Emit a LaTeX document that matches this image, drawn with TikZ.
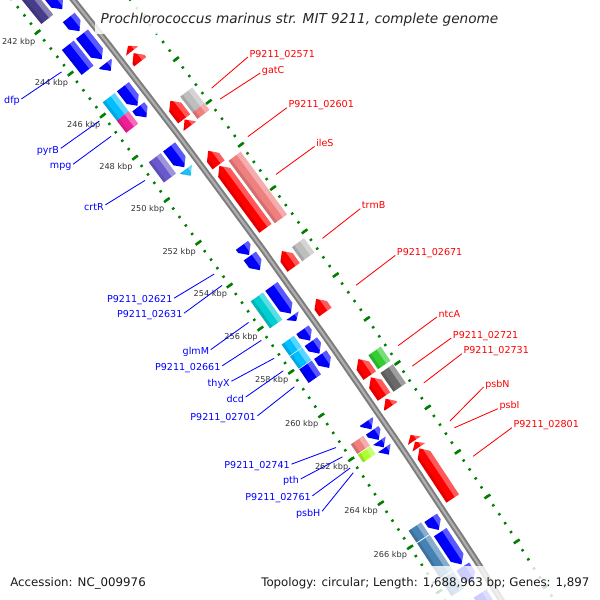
\documentclass[tikz,border=0pt]{standalone}
\usepackage{fontspec}
\setmainfont{DejaVu Sans}

\definecolor{cdsblue}{RGB}{0,0,255}
\definecolor{cdsred}{RGB}{255,0,0}
\definecolor{tickgreen}{RGB}{0,128,0}
\definecolor{cogslate}{RGB}{72,61,139}
\definecolor{cogsky}{RGB}{0,191,255}
\definecolor{cogpink}{RGB}{240,30,150}
\definecolor{coglav}{RGB}{106,90,205}
\definecolor{cogteal}{RGB}{0,206,209}
\definecolor{cogcoral}{RGB}{240,128,128}
\definecolor{coglime}{RGB}{173,255,47}
\definecolor{cogsteel}{RGB}{70,130,180}
\definecolor{coggrey}{RGB}{190,190,190}
\definecolor{cogdark}{RGB}{105,105,105}
\definecolor{coggreen}{RGB}{50,205,50}
\definecolor{misccyan}{RGB}{30,190,240}
\definecolor{backdark}{RGB}{125,125,125}
\definecolor{backlight}{RGB}{175,175,175}

% position (kbp) -> angle on the map
\newcommand{\kb}[1]{0.213149*(#1)-90}
\newcommand{\fwdpath}[3]{({\kb{#1}}:#3) -- ({\kb{#1}}:{#3+15}) -- ({\kb{max(#1,#2-0.3)}}:{#3+15}) -- ({\kb{#2}}:{#3+7.5}) -- ({\kb{max(#1,#2-0.3)}}:#3) -- cycle}
\newcommand{\revpath}[3]{({\kb{#1}}:{#3+7.5}) -- ({\kb{min(#2,#1+0.3)}}:{#3+15}) -- ({\kb{#2}}:{#3+15}) -- ({\kb{#2}}:#3) -- ({\kb{min(#2,#1+0.3)}}:#3) -- cycle}
\newcommand{\blkpath}[3]{({\kb{#1}}:#3) -- ({\kb{#1}}:{#3+15}) -- ({\kb{#2}}:{#3+15}) -- ({\kb{#2}}:#3) -- cycle}
\newcommand{\gene}[5]{%
  \begin{scope}
    \fill[#5] #1{#2}{#3}{#4};
    \clip #1{#2}{#3}{#4};
    \fill[white,fill opacity=.35] ({\kb{#2-0.5}}:{#4+10}) -- ({\kb{#3+0.5}}:{#4+10}) -- ({\kb{#3+0.5}}:{#4+16}) -- ({\kb{#2-0.5}}:{#4+16}) -- cycle;
    \fill[black,fill opacity=.12] ({\kb{#2-0.5}}:{#4-1}) -- ({\kb{#3+0.5}}:{#4-1}) -- ({\kb{#3+0.5}}:{#4+3}) -- ({\kb{#2-0.5}}:{#4+3}) -- cycle;
  \end{scope}}

\begin{document}
\begin{tikzpicture}[x=0.025cm,y=-0.025cm,
    minortick/.style={draw=tickgreen,line width=1.6pt},
    majortick/.style={draw=tickgreen,line width=1.8pt},
    kbplbl/.style={text=black!80,font=\fontsize{5.8}{7}\selectfont,inner sep=0pt},
    blbl/.style={text=cdsblue,font=\fontsize{6.8}{8}\selectfont,inner sep=1pt,anchor=base east},
    rlbl/.style={text=cdsred,font=\fontsize{6.8}{8}\selectfont,inner sep=1pt,anchor=base west},
    bline/.style={draw=cdsblue,line width=0.6pt},
    rline/.style={draw=cdsred,line width=0.6pt},
    legend/.style={text=black!90,font=\fontsize{8.4}{10}\selectfont,inner sep=0pt,anchor=base west}]
        \def\rBtwo{7131}
        \def\rBone{7149}
        \def\rRone{7178}
        \def\rRtwo{7196}

\useasboundingbox (0,0) rectangle (600,600);
\clip (0,0) rectangle (600,600);
\fill[white] (0,0) rectangle (600,600);

\begin{scope}[shift={(-5543,4458)}]
% tick rings
\foreach \k in {590,...,680}{
  \draw[minortick] ({\kb{\k*0.4}}:7121.8) -- ({\kb{\k*0.4}}:7124.4);
  \draw[minortick] ({\kb{\k*0.4}}:7214.4) -- ({\kb{\k*0.4}}:7217);
}
\foreach \m in {236,238,...,272}{
  \draw[majortick] ({\kb{\m}}:7119.5) -- ({\kb{\m}}:7126.5);
  \draw[majortick] ({\kb{\m}}:7212) -- ({\kb{\m}}:7219);
}
\foreach \m in {242,244,...,266}
  \node[kbplbl] (t\m) at ({\kb{\m-0.15}}:7102) {\m\ kbp};

% backbone
\draw[backdark,line width=4.4pt] plot[domain=236:272,samples=90] ({\kb{\x}}:7171);
\draw[backlight,line width=1.5pt] plot[domain=236:272,samples=90] ({\kb{\x}}:7171);

% forward CDS
\gene\fwdpath{236.0}{241.9}{\rBone}{cdsblue}
\gene\fwdpath{242.3}{242.95}{\rBone}{cdsblue}
\gene\fwdpath{243.1}{244.3}{\rBone}{cdsblue}
\gene\fwdpath{244.5}{244.85}{\rBone}{cdsblue}
\gene\fwdpath{245.6}{246.5}{\rBone}{cdsblue}
\gene\fwdpath{246.55}{247.05}{\rBone}{cdsblue}
\gene\fwdpath{248.45}{249.4}{\rBone}{cdsblue}
\gene\fwdpath{249.5}{249.8}{\rBone}{misccyan}
\gene\fwdpath{253.05}{253.5}{\rBone}{cdsblue}
\gene\fwdpath{253.55}{254.2}{\rBone}{cdsblue}
\gene\fwdpath{254.95}{256.2}{\rBone}{cdsblue}
\gene\fwdpath{256.3}{256.55}{\rBone}{cdsblue}
\gene\fwdpath{256.95}{257.45}{\rBone}{cdsblue}
\gene\fwdpath{257.5}{258.05}{\rBone}{cdsblue}
\gene\fwdpath{258.1}{258.7}{\rBone}{cdsblue}
\gene\fwdpath{261.15}{261.5}{\rBone}{cdsblue}
\gene\fwdpath{261.55}{261.98}{\rBone}{cdsblue}
\gene\fwdpath{262.02}{262.32}{\rBone}{cdsblue}
\gene\fwdpath{262.35}{262.65}{\rBone}{cdsblue}
\gene\fwdpath{265.5}{266.05}{\rBone}{cdsblue}
\gene\fwdpath{266.15}{267.6}{\rBone}{cdsblue}
\gene\fwdpath{267.7}{268.4}{\rBone}{cdsblue}
\gene\fwdpath{268.9}{271.0}{\rBone}{cdsblue}

% forward COG
\gene\blkpath{236.0}{241.85}{\rBtwo}{cogslate}
\gene\blkpath{243.1}{244.3}{\rBtwo}{cdsblue}
\gene\blkpath{245.6}{246.47}{\rBtwo}{cogsky}
\gene\blkpath{246.47}{247.05}{\rBtwo}{cogpink}
\gene\blkpath{248.45}{249.4}{\rBtwo}{coglav}
\gene\blkpath{254.95}{256.2}{\rBtwo}{cogteal}
\gene\blkpath{256.95}{257.47}{\rBtwo}{cogsky}
\gene\blkpath{257.5}{258.07}{\rBtwo}{cogsky}
\gene\blkpath{258.1}{258.72}{\rBtwo}{cdsblue}
\gene\blkpath{261.53}{261.97}{\rBtwo}{cogcoral}
\gene\blkpath{262.0}{262.35}{\rBtwo}{coglime}
\gene\blkpath{265.45}{265.98}{\rBtwo}{cogsteel}
\gene\blkpath{266.02}{267.6}{\rBtwo}{cogsteel}
\gene\blkpath{267.65}{268.4}{\rBtwo}{cogsteel}
\gene\blkpath{268.9}{271.0}{\rBtwo}{cogsteel}

% reverse CDS
\gene\revpath{244.5}{244.75}{\rRone}{cdsred}
\gene\revpath{244.85}{245.25}{\rRone}{cdsred}
\gene\revpath{247.1}{247.95}{\rRone}{cdsred}
\gene\revpath{247.98}{248.3}{\rRone}{cdsred}
\gene\revpath{249.45}{250.1}{\rRone}{cdsred}
\gene\revpath{250.15}{253.05}{\rRone}{cdsred}
\gene\revpath{254.1}{254.85}{\rRone}{cdsred}
\gene\revpath{256.3}{256.9}{\rRone}{cdsred}
\gene\revpath{259.05}{259.8}{\rRone}{cdsred}
\gene\revpath{259.88}{260.75}{\rRone}{cdsred}
\gene\revpath{260.85}{261.2}{\rRone}{cdsred}
\gene\revpath{262.5}{262.75}{\rRone}{cdsred}
\gene\revpath{262.8}{263.05}{\rRone}{cdsred}
\gene\revpath{263.1}{265.35}{\rRone}{cdsred}

% reverse COG
\gene\blkpath{247.2}{247.95}{\rRtwo}{coggrey}
\gene\blkpath{247.95}{248.25}{\rRtwo}{cogcoral}
\gene\blkpath{250.2}{253.1}{\rRtwo}{cogcoral}
\gene\blkpath{254.2}{254.85}{\rRtwo}{coggrey}
\gene\blkpath{259.15}{259.78}{\rRtwo}{coggreen}
\gene\blkpath{259.95}{260.8}{\rRtwo}{cogdark}

% label anchors on the genes
\coordinate (gdfp) at ({\kb{243.74}}:7117);
\coordinate (gpyrB) at ({\kb{246.08}}:7117);
\coordinate (gmpg) at ({\kb{246.81}}:7117);
\coordinate (gcrtR) at ({\kb{248.91}}:7117);
\coordinate (g02621) at ({\kb{253.31}}:7117);
\coordinate (g02631) at ({\kb{253.83}}:7117);
\coordinate (gglmM) at ({\kb{255.55}}:7117);
\coordinate (g02661) at ({\kb{256.38}}:7117);
\coordinate (gthyX) at ({\kb{257.21}}:7117);
\coordinate (gdcd) at ({\kb{257.80}}:7117);
\coordinate (g02701) at ({\kb{258.53}}:7117);
\coordinate (g02741) at ({\kb{261.31}}:7117);
\coordinate (gpth) at ({\kb{261.74}}:7117);
\coordinate (g02761) at ({\kb{262.25}}:7117);
\coordinate (gpsbH) at ({\kb{262.47}}:7117);

\coordinate (g02571) at ({\kb{247.66}}:7226);
\coordinate (ggatC) at ({\kb{248.17}}:7226);
\coordinate (g02601) at ({\kb{249.91}}:7226);
\coordinate (gileS) at ({\kb{251.66}}:7226);
\coordinate (gtrmB) at ({\kb{254.60}}:7226);
\coordinate (g02671) at ({\kb{256.75}}:7226);
\coordinate (gntcA) at ({\kb{259.49}}:7226);
\coordinate (g02721) at ({\kb{260.41}}:7226);
\coordinate (g02731) at ({\kb{261.17}}:7226);
\coordinate (gpsbN) at ({\kb{262.89}}:7226);
\coordinate (gpsbI) at ({\kb{263.19}}:7226);
\coordinate (g02801) at ({\kb{264.46}}:7226);
\end{scope}

% blue labels
\node[blbl] (ldfp) at (21.4,103.7) {dfp};
\node[blbl] (lpyrB) at (60.7,153) {pyrB};
\node[blbl] (lmpg) at (73.1,168) {mpg};
\node[blbl] (lcrtR) at (105.4,210.4) {crtR};
\node[blbl] (l02621) at (174.1,302.7) {P9211\_02621};
\node[blbl] (l02631) at (184.1,317.7) {P9211\_02631};
\node[blbl] (lglmM) at (210.7,354.4) {glmM};
\node[blbl] (l02661) at (222.1,370.4) {P9211\_02661};
\node[blbl] (lthyX) at (231.4,386) {thyX};
\node[blbl] (ldcd) at (245.7,402.7) {dcd};
\node[blbl] (l02701) at (257.4,420.4) {P9211\_02701};
\node[blbl] (l02741) at (291.4,468.7) {P9211\_02741};
\node[blbl] (lpth) at (300.7,483.7) {pth};
\node[blbl] (l02761) at (312.4,500.4) {P9211\_02761};
\node[blbl] (lpsbH) at (322.1,516) {psbH};

\foreach \g in {dfp,pyrB,mpg,crtR,02621,02631,glmM,02661,thyX,dcd,02701,02741,pth,02761,psbH}
  \draw[bline] ([yshift=1.5pt]l\g.east) -- (g\g);

% red labels
\node[rlbl] (l02571) at (247.9,57) {P9211\_02571};
\node[rlbl] (lgatC) at (260.3,73) {gatC};
\node[rlbl] (l02601) at (286.9,107.7) {P9211\_02601};
\node[rlbl] (lileS) at (314.6,146.4) {ileS};
\node[rlbl] (ltrmB) at (360.3,208.7) {trmB};
\node[rlbl] (l02671) at (395.3,255.4) {P9211\_02671};
\node[rlbl] (lntcA) at (436.9,317) {ntcA};
\node[rlbl] (l02721) at (451.3,338) {P9211\_02721};
\node[rlbl] (l02731) at (461.9,353.7) {P9211\_02731};
\node[rlbl] (lpsbN) at (483.6,387) {psbN};
\node[rlbl] (lpsbI) at (497.9,408.7) {psbI};
\node[rlbl] (l02801) at (511.9,427.7) {P9211\_02801};

\foreach \g in {02571,gatC,02601,ileS,trmB,02671,ntcA,02721,02731,psbN,psbI,02801}
  \draw[rline] (g\g) -- (l\g.base west);

% title and legend
\fill[white,fill opacity=.85] (95,2) rectangle (505,34);
\node[font=\fontsize{9.7}{12}\selectfont\itshape,text=black!85,inner sep=0pt,anchor=base] (ttl) at (299.5,23) {Prochlorococcus marinus str. MIT 9211, complete genome};
\fill[white,fill opacity=.8] (255,566) rectangle (600,600);
\node[legend] (acc) at (10,586.3) {Accession: NC\_009976};
\node[legend] (topo) at (261,586.3) {Topology: circular; Length: 1,688,963 bp; Genes: 1,897};

\end{tikzpicture}
\end{document}
